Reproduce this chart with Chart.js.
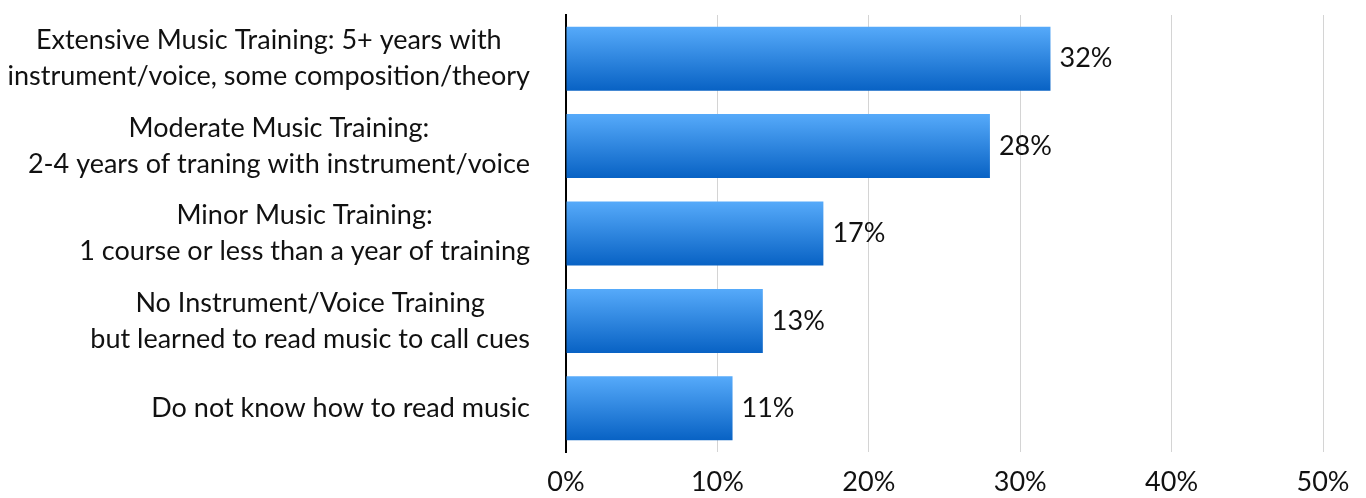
<!DOCTYPE html>
<html lang="en">
<head>
    <meta charset="UTF-8">
    <title>Music Training</title>
    <style>
        html, body { margin: 0; padding: 0; background: #fff; }
        #wrap { width: 1366px; height: 498px; }
    </style>
</head>
<body>
    <div id="wrap"><canvas id="chart"></canvas></div>
    <script src="https://cdn.jsdelivr.net/npm/chart.js"></script>
    <script>
        const categories = [
            ['Extensive Music Training: 5+ years with', 'instrument/voice, some composition/theory'],
            ['Moderate Music Training:', '2-4 years of traning with instrument/voice'],
            ['Minor Music Training:', '1 course or less than a year of training'],
            ['No Instrument/Voice Training', 'but learned to read music to call cues'],
            ['Do not know how to read music']
        ];
        const shares = [32, 28, 17, 13, 11];
        const xTicks = [0, 10, 20, 30, 40, 50];

        const FONT = 'Lato, "Noto Sans", sans-serif';
        const SIZE = 27;

        // vertical blue gradient across each bar's thickness
        function barFill(ctx) {
            const chart = ctx.chart;
            const y = chart.scales.y;
            if (!y || ctx.dataIndex === undefined) return '#2f86e0';
            const c = y.getPixelForValue(ctx.dataIndex);
            if (!isFinite(c)) return '#2f86e0';
            const half = 32;
            const g = chart.ctx.createLinearGradient(0, c - half, 0, c + half);
            g.addColorStop(0, '#56aafa');
            g.addColorStop(1, '#0862c4');
            return g;
        }

        // category labels: block right-aligned, lines centred within it
        const categoryLabels = {
            id: 'categoryLabels',
            afterDraw(chart) {
                const ctx = chart.ctx;
                const y = chart.scales.y;
                const right = chart.chartArea.left - 36;
                const lh = 36;
                ctx.save();
                ctx.font = SIZE + 'px ' + FONT;
                ctx.fillStyle = '#111';
                ctx.textAlign = 'center';
                ctx.textBaseline = 'middle';
                categories.forEach((lines, i) => {
                    const w = Math.max(...lines.map(l => ctx.measureText(l).width));
                    const cx = right - w / 2;
                    const cy = y.getPixelForValue(i);
                    lines.forEach((l, j) => {
                        ctx.fillText(l, cx, cy + (j - (lines.length - 1) / 2) * lh);
                    });
                });
                ctx.restore();
            }
        };

        // value labels at the end of each bar
        const valueLabels = {
            id: 'valueLabels',
            afterDatasetsDraw(chart) {
                const ctx = chart.ctx;
                const meta = chart.getDatasetMeta(0);
                ctx.save();
                ctx.font = SIZE + 'px ' + FONT;
                ctx.fillStyle = '#111';
                ctx.textAlign = 'left';
                ctx.textBaseline = 'middle';
                meta.data.forEach((bar, i) => {
                    ctx.fillText(shares[i] + '%', bar.x + 9, bar.y);
                });
                ctx.restore();
            }
        };

        new Chart(document.getElementById('chart'), {
            type: 'bar',
            data: {
                labels: categories,
                datasets: [{
                    data: shares,
                    backgroundColor: barFill,
                    borderWidth: 0,
                    barPercentage: 0.732,
                    categoryPercentage: 1
                }]
            },
            options: {
                indexAxis: 'y',
                responsive: true,
                maintainAspectRatio: false,
                animation: false,
                layout: { padding: { top: 15, right: 43, bottom: 0, left: 0 } },
                plugins: {
                    legend: { display: false },
                    tooltip: { enabled: false }
                },
                scales: {
                    x: {
                        min: 0,
                        max: 50,
                        afterBuildTicks(scale) {
                            scale.ticks = xTicks.map(v => ({ value: v }));
                        },
                        afterFit(scale) { scale.height = 46; },
                        grid: { color: '#d4d4d4', lineWidth: 1, drawTicks: false },
                        border: { display: false },
                        ticks: {
                            padding: 14,
                            color: '#111',
                            font: { family: FONT, size: SIZE },
                            callback: v => v + '%'
                        }
                    },
                    y: {
                        grid: { display: false },
                        border: { display: true, color: '#000', width: 2 },
                        ticks: { display: false },
                        afterFit(scale) { scale.width = 566; }
                    }
                }
            },
            plugins: [categoryLabels, valueLabels]
        });
    </script>
</body>
</html>
